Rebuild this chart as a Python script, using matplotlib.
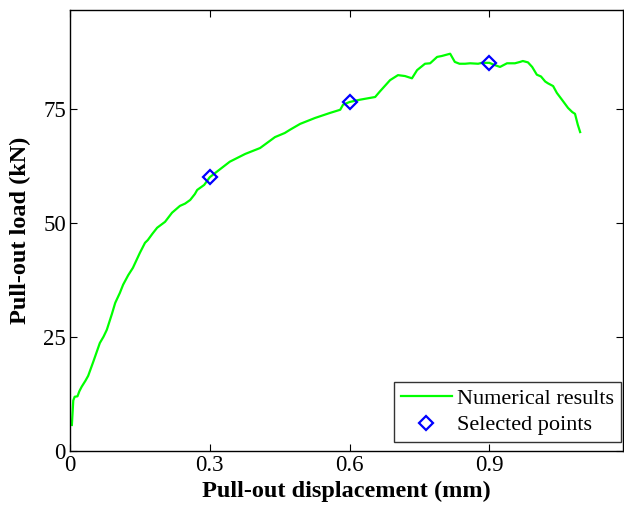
import numpy as np
import matplotlib
matplotlib.use("Agg")
import matplotlib.pyplot as plt

# numerical pull-out curve (displacement mm, load kN)
disp = [0.004, 0.007, 0.010, 0.016, 0.020, 0.025, 0.033, 0.039, 0.050, 0.064,
        0.072, 0.079, 0.090, 0.097, 0.107, 0.114, 0.125, 0.135, 0.150, 0.161,
        0.167, 0.177, 0.187, 0.204, 0.219, 0.236, 0.247, 0.258, 0.268, 0.273,
        0.288, 0.300, 0.343, 0.376, 0.408, 0.440, 0.461, 0.472, 0.494, 0.526,
        0.558, 0.580, 0.586, 0.600, 0.622, 0.655, 0.665, 0.687, 0.704, 0.719,
        0.734, 0.745, 0.762, 0.773, 0.788, 0.798, 0.816, 0.826, 0.836, 0.848,
        0.859, 0.876, 0.884, 0.900, 0.912, 0.923, 0.938, 0.955, 0.966, 0.972,
        0.983, 0.992, 1.002, 1.011, 1.020, 1.026, 1.037, 1.045, 1.056, 1.069,
        1.078, 1.084, 1.090, 1.095]
load = [5.6, 11.0, 11.8, 11.9, 13.0, 14.0, 15.3, 16.4, 19.5, 23.6,
        25.0, 26.5, 30.0, 32.4, 34.6, 36.4, 38.5, 40.1, 43.4, 45.6,
        46.2, 47.6, 48.9, 50.2, 52.2, 53.7, 54.2, 55.0, 56.3, 57.2,
        58.3, 60.0, 63.4, 65.1, 66.4, 68.8, 69.7, 70.4, 71.7, 73.0,
        74.1, 74.8, 75.9, 76.5, 77.0, 77.6, 78.8, 81.3, 82.4, 82.2,
        81.7, 83.5, 84.9, 85.0, 86.4, 86.6, 87.1, 85.3, 84.9, 84.9,
        85.0, 84.9, 85.1, 85.1, 84.6, 84.2, 85.0, 85.0, 85.3, 85.5,
        85.2, 84.2, 82.5, 82.1, 81.0, 80.6, 80.0, 78.5, 77.0, 75.2,
        74.3, 73.9, 71.5, 69.9]

# selected points
sel_disp = [0.3, 0.6, 0.9]
sel_load = [60.0, 76.5, 85.1]

xticks = [0, 0.3, 0.6, 0.9]
xticklabels = ["0", "0.3", "0.6", "0.9"]
yticks = [0, 25, 50, 75]

plt.rcParams['font.family'] = ['Liberation Serif', 'DejaVu Serif']

fig = plt.figure(figsize=(6.24, 5.07), dpi=100)
ax = fig.add_axes([0.1122, 0.1114, 0.8862, 0.8689])

ax.plot(disp, load, color=(0, 1, 0), lw=1.6, label="Numerical results")
ax.plot(sel_disp, sel_load, ls="none", marker="D", ms=7, mfc="none",
        mec=(0, 0, 1), mew=1.6, label="Selected points")

ax.set_xlim(0, 1.187)
ax.set_ylim(0, 96.7)
ax.set_xticks(xticks)
ax.set_xticklabels(xticklabels)
ax.set_yticks(yticks)
ax.tick_params(direction="in", length=5, width=0.8, top=True, right=True,
               labelsize=16.5, pad=3)
for s in ax.spines.values():
    s.set_linewidth(1.0)

ax.set_xlabel("Pull-out displacement (mm)", fontsize=17.5, fontweight="bold", labelpad=4)
ax.set_ylabel("Pull-out load (kN)", fontsize=17.5, fontweight="bold", labelpad=9)

leg = ax.legend(loc="lower right", bbox_to_anchor=(0.9964, 0.0193), borderaxespad=0,
                fontsize=16, frameon=True, fancybox=False, edgecolor="black",
                handlelength=2.3, labelspacing=0.25, borderpad=0.3,
                handletextpad=0.25)
leg.get_frame().set_linewidth(1.0)

fig.savefig("out.png", dpi=100)
